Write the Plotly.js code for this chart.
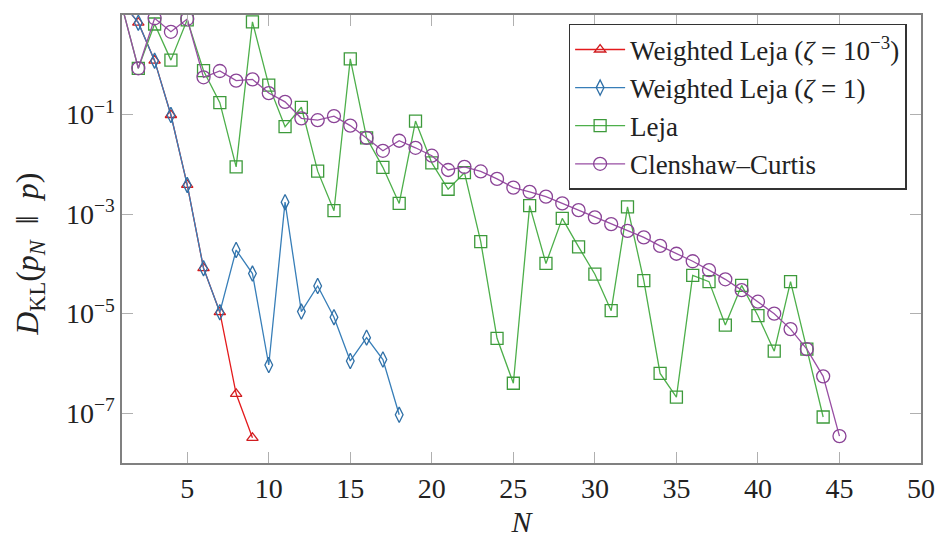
<!DOCTYPE html>
<html>
<head>
<meta charset="utf-8">
<script src="https://cdn.plot.ly/plotly-3.0.1.min.js"></script>
<style>
  html, body { margin: 0; padding: 0; background: #fff; font-family: 'Liberation Serif', serif; }
  #plot { width: 939px; height: 538px; }
</style>
</head>
<body>
<div id="plot"></div>
<script>
// KL divergence of the approximation p_N against p, for each quadrature rule
const nWL3 = [1, 2, 3, 4, 5, 6, 7, 8, 9];
const klWL3 = [18, 7.0, 1.21, 0.098, 0.00386, 8.2e-5, 1.07e-5, 2.45e-7, 3.2e-8];

const nWL1 = [1, 2, 3, 4, 5, 6, 7, 8, 9, 10, 11, 12, 13, 14, 15, 16, 17, 18];
const klWL1 = [18, 7.0, 1.21, 0.098, 0.00386, 8.2e-5, 1.07e-5, 1.9e-4, 6.4e-5, 9.3e-7,
               1.74e-3, 1.1e-5, 3.6e-5, 8.5e-6, 1.12e-6, 3.3e-6, 1.2e-6, 9.3e-8];

const nLeja = [1, 2, 3, 4, 5, 6, 7, 8, 9, 10, 11, 12, 13, 14, 15, 16, 17, 18, 19, 20, 21, 22,
               23, 24, 25, 26, 27, 28, 29, 30, 31, 32, 33, 34, 35, 36, 37, 38, 39, 40, 41, 42, 43, 44];
const klLeja = [15, 0.85, 6.6, 1.24, 8.0, 0.76, 0.173, 0.0089, 7.3, 0.39, 0.057, 0.14, 0.0073,
                0.00117, 1.32, 0.034, 0.0087, 0.00164, 0.074, 0.0107, 0.00316, 0.0068,
                2.8e-4, 3.2e-6, 4.0e-7, 1.48e-3, 1.02e-4, 8.2e-4, 2.2e-4, 6.2e-5, 1.15e-5,
                1.4e-3, 4.6e-5, 6.3e-7, 2.1e-7, 5.9e-5, 4.4e-5, 5.9e-6, 3.7e-5, 9.1e-6,
                1.76e-6, 4.4e-5, 1.94e-6, 8.4e-8];

const nCC = [1, 2, 3, 4, 5, 6, 7, 8, 9, 10, 11, 12, 13, 14, 15, 16, 17, 18, 19, 20, 21, 22, 23,
             24, 25, 26, 27, 28, 29, 30, 31, 32, 33, 34, 35, 36, 37, 38, 39, 40, 41, 42, 43, 44, 45];
const klCC = [15, 0.85, 8.6, 4.6, 8.3, 0.56, 0.75, 0.48, 0.51, 0.27, 0.18, 0.084, 0.077, 0.093,
              0.060, 0.034, 0.0187, 0.0298, 0.0215, 0.0149, 0.0077, 0.0089, 0.0072, 0.0051,
              0.0034, 0.0028, 0.00224, 0.00164, 0.0012, 8.6e-4, 6.3e-4, 4.6e-4, 3.4e-4,
              2.3e-4, 1.6e-4, 1.13e-4, 7.5e-5, 4.9e-5, 2.97e-5, 1.74e-5, 1.0e-5, 4.9e-6,
              1.94e-6, 5.5e-7, 3.47e-8];

const seriesNames = [
  'Weighted Leja (<i>ζ</i> = 10<sup>−3</sup>)',
  'Weighted Leja (<i>ζ</i> = 1)',
  'Leja',
  'Clenshaw–Curtis'
];

const xTickVals = [5, 10, 15, 20, 25, 30, 35, 40, 45, 50];
const yTickVals = [1e1, 1e-1, 1e-3, 1e-5, 1e-7];
const yTickText = ['10<sup>1</sup>', '10<sup>−1</sup>', '10<sup>−3</sup>', '10<sup>−5</sup>', '10<sup>−7</sup>'];
const yLabel = '<i>D</i><sub>KL</sub>(<i>p</i><sub><i>N</i></sub>  ‖  <i>p</i>)';

const FONT = 'Liberation Serif';

function series(x, y, name, lineColor, markColor, symbol, size) {
  return {
    x: x, y: y, name: name, type: 'scatter', mode: 'lines+markers',
    line: { color: lineColor, width: 1.3 },
    marker: { symbol: symbol, size: size, color: markColor, line: { color: markColor, width: 1.3 } }
  };
}

const traces = [
  series(nWL3, klWL3, seriesNames[0], '#e41a1c', '#d01d20', 'triangle-up-open', 10),
  series(nWL1, klWL1, seriesNames[1], '#377eb8', '#2f6fa6', 'diamond-tall-open', 11),
  series(nLeja, klLeja, seriesNames[2], '#4daf4a', '#3d9a3b', 'square-open', 12),
  series(nCC, klCC, seriesNames[3], '#984ea3', '#8a4396', 'circle-open', 13)
];

function axisBase() {
  return {
    showline: true, linecolor: '#808080', linewidth: 1.6, mirror: 'ticks',
    ticks: 'inside', ticklen: 11, tickwidth: 1, tickcolor: '#b0b0b0',
    showgrid: false, zeroline: false,
    tickfont: { family: FONT, size: 28, color: '#222' }
  };
}

const layout = {
  width: 939, height: 538,
  margin: { l: 122, r: 18, t: 15, b: 75 },
  paper_bgcolor: '#fff', plot_bgcolor: '#fff',
  font: { family: FONT, size: 27, color: '#222' },
  showlegend: true,
  xaxis: Object.assign(axisBase(), {
    range: [1, 50], tickvals: xTickVals,
    title: { text: '<i>N</i>', font: { family: FONT, size: 30 }, standoff: 8 }
  }),
  yaxis: Object.assign(axisBase(), {
    type: 'log', range: [-8, 1], tickvals: yTickVals, ticktext: yTickText
  }),
  // vertical axis label, set a little below the middle of the frame
  annotations: [{
    text: yLabel, xref: 'paper', yref: 'paper', x: -0.115, y: 0.465,
    xanchor: 'center', yanchor: 'middle', textangle: -90, showarrow: false,
    font: { family: FONT, size: 32, color: '#222' }
  }],
  legend: {
    x: 0.982, xanchor: 'right', y: 0.98, yanchor: 'top',
    bgcolor: '#fff', bordercolor: '#333', borderwidth: 1.5,
    font: { family: FONT, size: 27, color: '#222' },
    itemwidth: 50, tracegroupgap: 0
  }
};

Plotly.newPlot('plot', traces, layout, { displayModeBar: false, staticPlot: true });
</script>
</body>
</html>
